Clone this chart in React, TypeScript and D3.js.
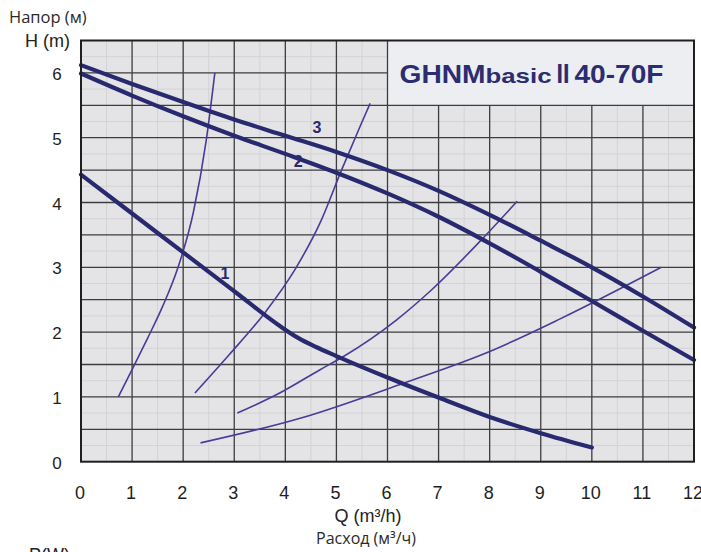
import React from 'react';
import * as d3 from 'd3';

// ---- data ----
const qTicks = [0, 1, 2, 3, 4, 5, 6, 7, 8, 9, 10, 11, 12];
const hTicks = [0, 1, 2, 3, 4, 5, 6];

// pump curves (speed 1, 2, 3)
const curve1Q = [0, 1, 2, 3, 3.9, 4.25, 4.6, 5, 6, 7, 8, 9, 10];
const curve1H = [4.43, 3.83, 3.23, 2.63, 2.09, 1.91, 1.77, 1.63, 1.3, 0.99, 0.69, 0.44, 0.22];

const curve2Q = [0, 1, 2, 3, 4, 5, 6, 7, 8, 9, 10, 11, 12];
const curve2H = [5.99, 5.65, 5.33, 5.03, 4.75, 4.46, 4.14, 3.78, 3.37, 2.93, 2.48, 2.02, 1.57];

const curve3Q = [0, 1, 2, 3, 4, 5, 6, 7, 8, 9, 10, 11, 12];
const curve3H = [6.12, 5.83, 5.55, 5.28, 5.03, 4.78, 4.5, 4.18, 3.81, 3.41, 3.0, 2.55, 2.07];

// system curves
const sysAQ = [0.73, 1.0, 1.3, 1.6, 1.9, 2.2, 2.45, 2.62];
const sysAH = [1.0, 1.42, 1.9, 2.4, 3.0, 3.85, 4.95, 6.0];

const sysBQ = [2.23, 2.9, 3.6, 4.2, 4.7, 5.1, 5.45, 5.66];
const sysBH = [1.06, 1.65, 2.3, 2.98, 3.72, 4.5, 5.15, 5.53];

const sysCQ = [3.06, 3.89, 4.68, 5.13, 6.18, 6.86, 7.81, 8.54];
const sysCH = [0.75, 1.06, 1.42, 1.62, 2.19, 2.65, 3.4, 4.02];

const sysDQ = [2.34, 4.29, 6.31, 8.0, 9.37, 11.36];
const sysDH = [0.29, 0.67, 1.21, 1.7, 2.2, 3.0];

const curveLabels = ['1', '2', '3'];
const curveLabelQ = [2.82, 4.25, 4.62];
const curveLabelH = [2.9, 4.64, 5.15];

const titleParts = ['GHNM', 'basic', 'II', '40-70F'];

// ---- layout ----
const W = 701;
const H = 552;
const x = d3.scaleLinear().domain([0, 12]).range([81, 694]);
const y = d3.scaleLinear().domain([0, 6.5]).range([461.7, 40.5]);

const thick = '#28296f';
const thin = '#4a3b98';

const toPts = (qs: number[], hs: number[]) => qs.map((q, i) => [q, hs[i]] as [number, number]);

const line = d3
  .line<[number, number]>()
  .x((d) => x(d[0]))
  .y((d) => y(d[1]))
  .curve(d3.curveMonotoneX);

export default function App() {
  const minorQ = d3.range(0.5, 12, 1);
  const minorH = d3.range(0.25, 6.5, 0.5);
  const majorQ = d3.range(1, 12, 1);
  const majorH = d3.range(0.5, 6.5, 0.5);

  const boxX0 = x(6);
  const boxX1 = x(12);
  const boxY0 = y(6.5);
  const boxY1 = y(5.5);

  const pumps = [
    toPts(curve1Q, curve1H),
    toPts(curve2Q, curve2H),
    toPts(curve3Q, curve3H),
  ];
  const systems = [
    toPts(sysAQ, sysAH),
    toPts(sysBQ, sysBH),
    toPts(sysCQ, sysCH),
    toPts(sysDQ, sysDH),
  ];

  return (
    <svg
      width={W}
      height={H}
      style={{ position: 'absolute', left: 0, top: 0, background: '#fff' }}
      fontFamily="'Liberation Sans', Arial, sans-serif"
    >
      <rect x={0} y={0} width={W} height={H} fill="#ffffff" />
      {/* plot background */}
      <rect x={x(0)} y={y(6.5)} width={x(12) - x(0)} height={y(0) - y(6.5)} fill="#e4e4e6" />

      {/* minor grid */}
      {minorQ.map((q) => (
        <line key={'mq' + q} x1={x(q)} x2={x(q)} y1={y(0)} y2={y(6.5)} stroke="#d3d3d6" strokeWidth={1} />
      ))}
      {minorH.map((h) => (
        <line key={'mh' + h} x1={x(0)} x2={x(12)} y1={y(h)} y2={y(h)} stroke="#d3d3d6" strokeWidth={1} />
      ))}

      {/* title box background */}
      <rect x={boxX0} y={boxY0} width={boxX1 - boxX0} height={boxY1 - boxY0} fill="#eceef1" />

      {/* major grid */}
      {majorQ.map((q) => (
        <line
          key={'Mq' + q}
          x1={x(q)}
          x2={x(q)}
          y1={y(0)}
          y2={q > 6 ? boxY1 : y(6.5)}
          stroke="#3d3d3f"
          strokeWidth={1.3}
        />
      ))}
      {majorH.map((h) => (
        <line
          key={'Mh' + h}
          x1={x(0)}
          x2={y(h) < boxY1 - 0.5 ? boxX0 : x(12)}
          y1={y(h)}
          y2={y(h)}
          stroke="#3d3d3f"
          strokeWidth={1.3}
        />
      ))}

      {/* system curves */}
      {systems.map((pts, i) => (
        <path key={'s' + i} d={line(pts) || ''} fill="none" stroke={thin} strokeWidth={1.6} />
      ))}

      {/* pump curves */}
      {pumps.map((pts, i) => (
        <path
          key={'p' + i}
          d={line(pts) || ''}
          fill="none"
          stroke={thick}
          strokeWidth={4.2}
          strokeLinecap="round"
        />
      ))}

      {/* curve labels */}
      {curveLabels.map((t, i) => (
        <text
          key={'cl' + t}
          x={x(curveLabelQ[i])}
          y={y(curveLabelH[i])}
          fill={thick}
          fontSize={16}
          fontWeight="bold"
          textAnchor="middle"
          dominantBaseline="central"
        >
          {t}
        </text>
      ))}

      {/* frame */}
      <rect
        x={x(0)}
        y={y(6.5)}
        width={x(12) - x(0)}
        height={y(0) - y(6.5)}
        fill="none"
        stroke="#1f1f20"
        strokeWidth={2}
      />

      {/* title */}
      <g fill="#2b2d70" fontWeight="bold">
        <text x={boxX0 + 12} y={83} fontSize={26} textLength={86} lengthAdjust="spacingAndGlyphs">
          {titleParts[0]}
        </text>
        <text x={boxX0 + 98} y={83} fontSize={21} textLength={66} lengthAdjust="spacingAndGlyphs">
          {titleParts[1]}
        </text>
        <text x={boxX0 + 169} y={83} fontSize={28} textLength={13} lengthAdjust="spacingAndGlyphs">
          {titleParts[2]}
        </text>
        <text x={boxX0 + 187} y={83} fontSize={26} textLength={89} lengthAdjust="spacingAndGlyphs">
          {titleParts[3]}
        </text>
      </g>

      {/* y ticks */}
      {hTicks.map((h) => (
        <text
          key={'yt' + h}
          x={57}
          y={y(h) + 1.5}
          fontSize={17}
          fill="#1e1e1e"
          textAnchor="middle"
          dominantBaseline="central"
        >
          {h}
        </text>
      ))}

      {/* x ticks */}
      {qTicks.map((q) => (
        <text
          key={'xt' + q}
          x={x(q) - 1}
          y={493}
          fontSize={18}
          fill="#1e1e1e"
          textAnchor="middle"
          dominantBaseline="central"
        >
          {q}
        </text>
      ))}

      {/* axis labels */}
      <text x={9} y={23} fontFamily="'Open Sans', sans-serif" fontSize={16.5} fill="#2a2a2a">
        Напор (м)
      </text>
      <text x={25} y={46.5} fontSize={18} fill="#222">
        H (m)
      </text>
      <text x={368} y={522} fontSize={18} fill="#222" textAnchor="middle">
        Q (m³/h)
      </text>
      <text x={366} y={544} fontFamily="'Open Sans', sans-serif" fontSize={16} fill="#2a2a2a" textAnchor="middle">
        Расход (м³/ч)
      </text>
      <text x={29} y={561} fontSize={18} fill="#222">
        P(W)
      </text>
    </svg>
  );
}
